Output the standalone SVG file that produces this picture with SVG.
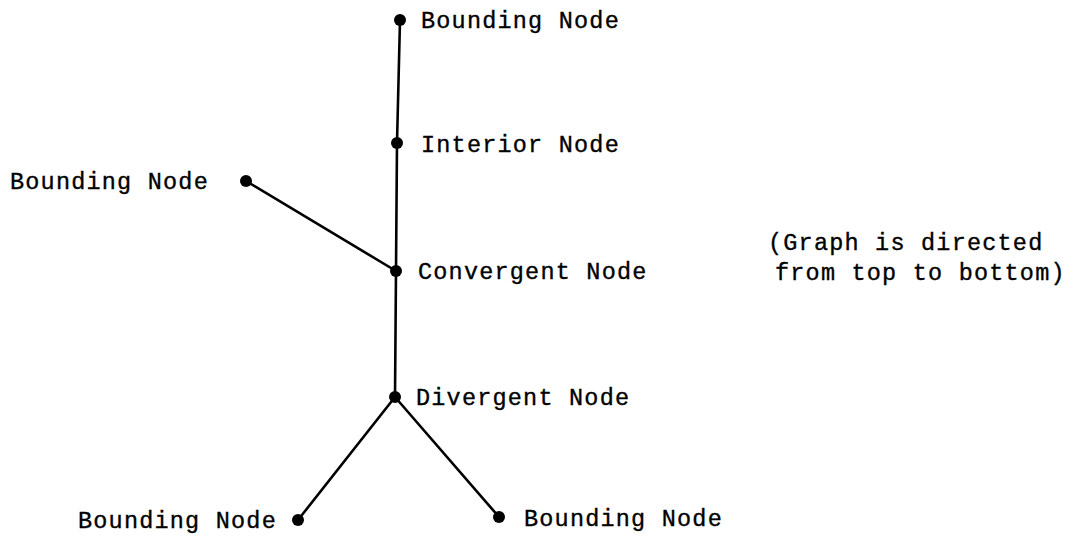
<svg xmlns="http://www.w3.org/2000/svg" width="1082" height="539" viewBox="0 0 1082 539">
<style>
text{font-family:"Liberation Mono","Courier New",monospace;font-size:23.5px;letter-spacing:1.2px;fill:#000;stroke:#000;stroke-width:0.35}
.dot{fill:#000}
.edge{stroke:#000;stroke-width:2.6;fill:none;stroke-linecap:round}
</style>
<rect width="1082" height="539" fill="#fff"/>
<g id="connectors">
<line class="edge" x1="400" y1="20" x2="397" y2="143"/>
<line class="edge" x1="397" y1="143" x2="396" y2="271"/>
<line class="edge" x1="246" y1="181" x2="396" y2="271"/>
<line class="edge" x1="396" y1="271" x2="395" y2="397"/>
<line class="edge" x1="395" y1="397" x2="298" y2="520"/>
<line class="edge" x1="395" y1="397" x2="499" y2="517"/>
</g>
<g id="node-top"><circle class="dot" cx="400" cy="20" r="6"/><text x="421" y="28">Bounding Node</text></g>
<g id="node-interior"><circle class="dot" cx="397" cy="143" r="6"/><text x="421" y="152">Interior Node</text></g>
<g id="node-left"><circle class="dot" cx="246" cy="181" r="6"/><text x="10" y="189">Bounding Node</text></g>
<g id="node-convergent"><circle class="dot" cx="396" cy="271" r="6"/><text x="418" y="279">Convergent Node</text></g>
<g id="node-divergent"><circle class="dot" cx="395" cy="397" r="6"/><text x="416" y="405">Divergent Node</text></g>
<g id="node-bottom-left"><circle class="dot" cx="298" cy="520" r="6"/><text x="78" y="528">Bounding Node</text></g>
<g id="node-bottom-right"><circle class="dot" cx="499" cy="517" r="6"/><text x="524" y="526">Bounding Node</text></g>
<g id="note"><text x="768" y="250">(Graph is directed</text><text x="775" y="280">from top to bottom)</text></g>
</svg>
